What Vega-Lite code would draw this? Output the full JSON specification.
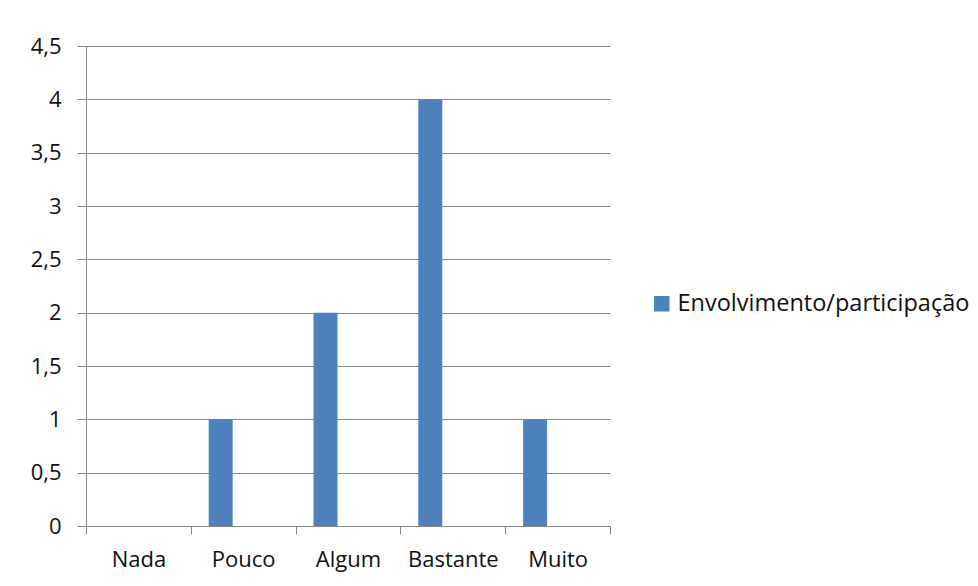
{
  "$schema": "https://vega.github.io/schema/vega-lite/v6.json",
  "autosize": {"type": "none"},
  "width": 524,
  "height": 480,
  "padding": {"left": 86, "top": 46, "right": 368, "bottom": 60},
  "background": "white",
  "data": {
    "values": [
      {"categoria": "Nada", "valor": 0, "serie": "Envolvimento/participação"},
      {"categoria": "Pouco", "valor": 1, "serie": "Envolvimento/participação"},
      {"categoria": "Algum", "valor": 2, "serie": "Envolvimento/participação"},
      {"categoria": "Bastante", "valor": 4, "serie": "Envolvimento/participação"},
      {"categoria": "Muito", "valor": 1, "serie": "Envolvimento/participação"}
    ]
  },
  "mark": {"type": "bar", "width": {"band": 0.229}, "xOffset": -22.5, "color": "#4F81BD"},
  "encoding": {
    "x": {
      "field": "categoria",
      "type": "nominal",
      "sort": ["Nada", "Pouco", "Algum", "Bastante", "Muito"],
      "scale": {"paddingInner": 0, "paddingOuter": 0},
      "axis": {
        "title": null,
        "labelAngle": 0,
        "bandPosition": 0,
        "tickBand": "extent",
        "domainColor": "#868686",
        "tickColor": "#868686",
        "tickSize": 8,
        "labelFont": "Open Sans",
        "labelFontSize": 22,
        "labelColor": "#111111",
        "labelPadding": 15
      }
    },
    "y": {
      "field": "valor",
      "type": "quantitative",
      "scale": {"domain": [0, 4.5], "nice": false},
      "axis": {
        "title": null,
        "values": [0, 0.5, 1, 1.5, 2, 2.5, 3, 3.5, 4, 4.5],
        "labelExpr": "replace(toString(datum.value), '.', ',')",
        "grid": true,
        "gridColor": "#868686",
        "gridOpacity": 1,
        "domainColor": "#868686",
        "tickColor": "#868686",
        "tickSize": 9,
        "labelFont": "Open Sans",
        "labelFontSize": 22,
        "labelColor": "#111111",
        "labelPadding": 16
      }
    },
    "color": {
      "field": "serie",
      "type": "nominal",
      "scale": {"range": ["#4F81BD"]},
      "legend": {
        "title": null,
        "orient": "none",
        "legendX": 564,
        "legendY": 246,
        "symbolType": "square",
        "symbolSize": 240,
        "symbolStrokeWidth": 0,
        "labelFont": "Open Sans",
        "labelFontSize": 23.5,
        "labelColor": "#111111",
        "labelLimit": 500,
        "labelOffset": 4
      }
    }
  },
  "config": {
    "view": {"stroke": null}
  }
}
